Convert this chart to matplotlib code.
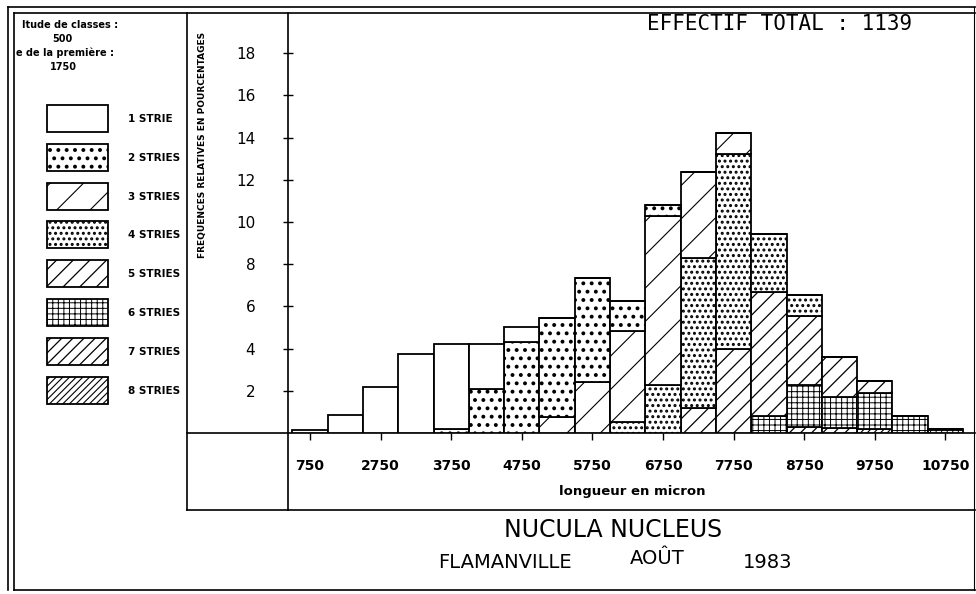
import numpy as np
import matplotlib
matplotlib.use("Agg")
import matplotlib.pyplot as plt
from matplotlib.patches import Rectangle

# classes de longueur (centres, en micron)
centres = [1750 + 500 * i for i in range(19)]
tick_vals = [1750, 2750, 3750, 4750, 5750, 6750, 7750, 8750, 9750, 10750]
tick_labels = ["750", "2750", "3750", "4750", "5750", "6750", "7750", "8750", "9750", "10750"]
y_ticks = [2, 4, 6, 8, 10, 12, 14, 16, 18]

# fréquences relatives (%) par nombre de stries
s1 = [0.15, 0.85, 2.2, 3.75, 4.0, 2.1, 0.7, 0, 0, 0, 0, 0, 0, 0, 0, 0, 0, 0, 0]
s2 = [0, 0, 0, 0, 0.2, 2.1, 4.3, 4.7, 4.9, 1.42, 0.5, 0, 0, 0, 0, 0, 0, 0, 0]
s3 = [0, 0, 0, 0, 0, 0, 0, 0.75, 2.43, 4.29, 8.03, 4.08, 1.01, 0, 0, 0, 0, 0, 0]
s4 = [0, 0, 0, 0, 0, 0, 0, 0, 0, 0.54, 2.27, 7.12, 9.24, 2.73, 1.0, 0, 0, 0, 0]
s5 = [0, 0, 0, 0, 0, 0, 0, 0, 0, 0, 0, 1.18, 3.98, 5.9, 3.27, 1.9, 0.6, 0, 0]
s6 = [0, 0, 0, 0, 0, 0, 0, 0, 0, 0, 0, 0, 0, 0.8, 2.0, 1.47, 1.68, 0.8, 0.2]
s7 = [0, 0, 0, 0, 0, 0, 0, 0, 0, 0, 0, 0, 0, 0, 0.27, 0.25, 0, 0, 0]
s8 = [0, 0, 0, 0, 0, 0, 0, 0, 0, 0, 0, 0, 0, 0, 0, 0, 0.2, 0, 0]

legend_labels = ["1 STRIE", "2 STRIES", "3 STRIES", "4 STRIES",
                 "5 STRIES", "6 STRIES", "7 STRIES", "8 STRIES"]

series = [s1, s2, s3, s4, s5, s6, s7, s8]
hatches = ["", "..", "/", "...", "//", "+++", "///", "/////"]
hatch_lw = [1.0, 1.6, 0.8, 1.4, 0.9, 0.7, 0.9, 0.8]

W, H = 976, 594
fig = plt.figure(figsize=(W / 100, H / 100), dpi=100)

# fond : cadre en pixels
ax0 = fig.add_axes([0, 0, 1, 1])
ax0.set_xlim(0, W)
ax0.set_ylim(H, 0)
ax0.axis("off")
k = dict(color="black", lw=1.2)
ax0.plot([8, 8], [7, 590], **k)
ax0.plot([14, 14], [13, 590], **k)
ax0.plot([8, 975], [7, 7], **k)
ax0.plot([14, 975], [13, 13], **k)
ax0.plot([14, 975], [590, 590], **k)
ax0.plot([974, 974], [7, 590], color="black", lw=0.8)
ax0.plot([187, 187], [13, 510], **k)
ax0.plot([288, 288], [13, 510], **k)
ax0.plot([187, 975], [433, 433], **k)
ax0.plot([187, 975], [510, 510], **k)

ax0.text(780, 24, "EFFECTIF TOTAL : 1139", ha="center", va="center",
         fontsize=15, family="DejaVu Sans Mono")
ax0.text(613, 530, "NUCULA NUCLEUS", ha="center", va="center", fontsize=17)
ax0.text(505, 563, "FLAMANVILLE", ha="center", va="center", fontsize=14)
ax0.text(657, 559, "AOÛT", ha="center", va="center", fontsize=14)
ax0.text(768, 563, "1983", ha="center", va="center", fontsize=14)
ax0.text(203, 145, "FREQUENCES RELATIVES EN POURCENTAGES", rotation=90,
         ha="center", va="center", fontsize=6.5, fontweight="bold")
ax0.text(632, 491, "longueur en micron", ha="center", va="center",
         fontsize=9.5, fontweight="bold")

# légende (coupée par le trait vertical)
axl = fig.add_axes([14 / W, 1 - 510 / H, (187 - 14) / W, (510 - 13) / H])
axl.set_xlim(14, 187)
axl.set_ylim(510, 13)
axl.axis("off")
axl.text(22, 25, "ltude de classes :", fontsize=7, fontweight="bold", va="center")
axl.text(52, 39, "500", fontsize=7, fontweight="bold", va="center")
axl.text(16, 53, "e de la première :", fontsize=7, fontweight="bold", va="center")
axl.text(50, 67, "1750", fontsize=7, fontweight="bold", va="center")
for i, (lab, h) in enumerate(zip(legend_labels, hatches)):
    y = 105 + 38.8 * i
    with plt.rc_context({"hatch.linewidth": hatch_lw[i]}):
        axl.add_patch(Rectangle((47, y), 61, 27, facecolor="white",
                                edgecolor="black", lw=1.3, hatch=h))
    axl.text(128, y + 14, lab, fontsize=7.5, fontweight="bold", va="center",
             clip_on=True)

# histogramme empilé
ax = fig.add_axes([288 / W, 1 - 433 / H, (975 - 288) / W, (433 - 13) / H])
ax.set_xlim(1438, 11169)
ax.set_ylim(0, 19.9)
bottom = np.zeros(len(centres))
for vals, h, lw in zip(series[::-1], hatches[::-1], hatch_lw[::-1]):
    vals = np.array(vals)
    with plt.rc_context({"hatch.linewidth": lw}):
        ax.bar(centres, vals, width=500, bottom=bottom, color="white",
               edgecolor="black", linewidth=1.3, hatch=h)
    bottom += vals

for sp in ax.spines.values():
    sp.set_visible(False)
ax.set_yticks(y_ticks)
ax.set_yticklabels([str(v) for v in y_ticks], fontsize=11)
ax.tick_params(axis="y", direction="inout", length=7, width=1, pad=20)
ax.set_xticks(tick_vals)
ax.set_xticklabels(tick_labels, fontsize=10, fontweight="bold")
ax.tick_params(axis="x", direction="out", length=5, width=1, pad=14)
ax.patch.set_alpha(0)

fig.savefig("out.png", dpi=100)
